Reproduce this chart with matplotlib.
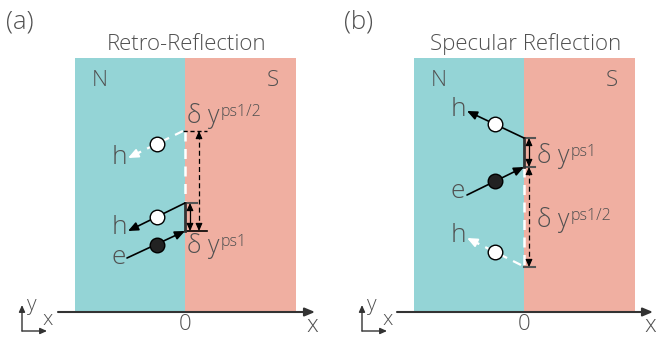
import matplotlib.pyplot as plt
from matplotlib.patches import Rectangle

# panel text
panel_tags = ['(a)', '(b)']
panel_titles = ['Retro-Reflection', 'Specular Reflection']
region_names = ['N', 'S']
shift_small = 'ps1'
shift_large = 'ps1/2'

# panel geometry (pixel units, y downwards)
left_edge = [75, 414]
interface = [185, 524]
right_edge = [296, 635]
slab_top, slab_bottom = 58, 312
axis_start = [58, 397]
axis_end = [315, 653]
icon_x = [22, 362]

CYAN = '#94d4d6'
SALMON = '#f0afa1'
TEXT = '#505050'
DARK = '#333333'

plt.rcParams['font.family'] = ['Open Sans', 'DejaVu Sans']

fig = plt.figure(figsize=(6.56, 3.37), dpi=100)
ax = fig.add_axes([0, 0, 1, 1])
ax.set_xlim(0, 656)
ax.set_ylim(337, 0)
ax.axis('off')


def arrow(p0, p1, color='k', lw=1.2, hl=0.6, hw=0.26, ls='-'):
    ax.annotate('', xy=p1, xytext=p0,
                arrowprops=dict(arrowstyle=f'-|>,head_length={hl},head_width={hw}',
                                color=color, lw=lw, ls=ls, shrinkA=0, shrinkB=0),
                annotation_clip=False)


def head(x, y, dx, dy, size=0.45):
    # short solid arrowhead pointing to (x, y)
    ax.annotate('', xy=(x, y), xytext=(x - dx, y - dy),
                arrowprops=dict(arrowstyle=f'-|>,head_length={size},head_width={size * 0.45}',
                                color='k', lw=0.8, shrinkA=0, shrinkB=0))


def double_arrow(x, y0, y1, ls='-'):
    ax.plot([x, x], [y0 + 3, y1 - 3], color='k', lw=0.9, ls=ls,
            dashes=(4, 2.5) if ls == '--' else (None, None))
    head(x, y0, 0, -4)
    head(x, y1, 0, 4)


def particle(p0, p1, c, filled, dashed=False):
    if dashed:
        ax.plot([p0[0], p1[0]], [p0[1], p1[1]], color='white', lw=1.6, dashes=(4, 3))
        arrow((p0[0] + (p1[0] - p0[0]) * 0.8, p0[1] + (p1[1] - p0[1]) * 0.8), p1,
              color='white', lw=1.4)
    else:
        arrow(p0, p1, color='k', lw=1.2)
    ax.plot(*c, 'o', ms=10.5, mfc='#222222' if filled else 'white', mec='k', mew=1.0, zorder=5)


def shift_label(x, base, sup):
    t = ax.text(x, base, '\u03b4 y', fontsize=18, color=TEXT, ha='left', va='baseline',
                fontweight='light')
    ax.annotate(sup, xy=(1.02, 0.64), xycoords=t, fontsize=11.5, color=TEXT,
                ha='left', va='center', fontweight='light')


for i in range(2):
    xi = interface[i]
    ax.add_patch(Rectangle((left_edge[i], slab_top), xi - left_edge[i],
                           slab_bottom - slab_top, color=CYAN, lw=0))
    ax.add_patch(Rectangle((xi, slab_top), right_edge[i] - xi,
                           slab_bottom - slab_top, color=SALMON, lw=0))
    ax.text(left_edge[i] - 55, 22, panel_tags[i], fontsize=18.5, color=TEXT,
            ha='center', va='center', fontweight='light')
    ax.text((left_edge[i] + right_edge[i]) / 2 + 1, 50, panel_titles[i], fontsize=16,
            color=TEXT, ha='center', va='baseline', fontweight='light')
    ax.text(left_edge[i] + 25, 81, region_names[0], fontsize=16, color=TEXT,
            ha='center', va='center', fontweight='light')
    ax.text(right_edge[i] - 23, 81, region_names[1], fontsize=16, color=TEXT,
            ha='center', va='center', fontweight='light')

    # x axis
    arrow((axis_start[i], slab_bottom), (axis_end[i], slab_bottom), color=DARK, lw=1.5,
          hl=0.6, hw=0.25)
    ax.text(xi, 325, '0', fontsize=16, color=TEXT, ha='center', va='center',
            fontweight='light')
    ax.text(axis_end[i] - 3, 326, 'x', fontsize=17, color=TEXT, ha='center', va='center',
            fontweight='light')

    # coordinate icon
    cx = icon_x[i]
    arrow((cx, 331), (cx, 305), color=DARK, lw=1.0, hl=0.4, hw=0.18)
    arrow((cx, 331), (cx + 25, 331), color=DARK, lw=1.0, hl=0.4, hw=0.18)
    ax.text(cx + 10, 305, 'y', fontsize=15, color=TEXT, ha='center', va='center',
            fontweight='light')
    ax.text(cx + 26, 320, 'x', fontsize=15, color=TEXT, ha='center', va='center',
            fontweight='light')

# (a) retro-reflection
xi = interface[0]
ax.plot([xi, xi], [131, 203], color='white', lw=1.8, dashes=(4, 3))
ax.plot([183, 207], [131, 131], color='k', lw=1.0, dashes=(3, 2))
ax.plot([xi, 207], [231, 231], color='k', lw=1.2)
ax.plot([xi, 197], [203, 203], color='#555555', lw=1.5)
ax.plot([xi, xi], [203, 231], color=DARK, lw=2.0)
double_arrow(199, 131, 231, ls='--')
double_arrow(190, 203, 231)
particle((183, 131), (128, 158), (157, 144), False, dashed=True)
particle((xi, 203), (128, 231), (157, 217), False)
particle((127, 258), (xi, 231), (157, 245), True)
for lab, y in zip(['h', 'h', 'e'], [158, 228, 258]):
    ax.text(119, y, lab, fontsize=19, color=TEXT, ha='center', va='center',
            fontweight='light')
shift_label(187, 123, shift_large)
shift_label(187, 253, shift_small)

# (b) specular reflection
xi = interface[1]
ax.plot([xi, xi], [167, 267], color='white', lw=1.8, dashes=(4, 3))
ax.plot([xi, 535], [138, 138], color='#555555', lw=1.5)
ax.plot([xi, 535], [167, 167], color='#555555', lw=1.5)
ax.plot([xi, 535], [267, 267], color='#555555', lw=1.5)
ax.plot([xi, xi], [138, 167], color=DARK, lw=2.0)
double_arrow(529, 138, 167)
double_arrow(529, 167, 267, ls='--')
particle((xi, 138), (467, 111), (495, 124), False)
particle((467, 195), (xi, 167), (495, 181), True)
particle((521, 265), (467, 238), (495, 252), False, dashed=True)
for lab, y in zip(['h', 'e', 'h'], [109, 192, 236]):
    ax.text(458, y, lab, fontsize=19, color=TEXT, ha='center', va='center',
            fontweight='light')
shift_label(537, 163, shift_small)
shift_label(537, 227, shift_large)

fig.savefig('out.png', dpi=100)
